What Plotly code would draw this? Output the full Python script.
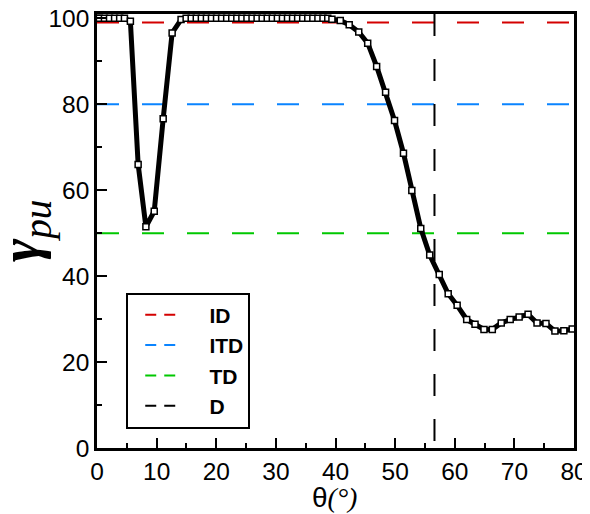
import plotly.graph_objects as go

# Curve data (theta in degrees, gamma_pu)
theta = [0, 0.4, 1.25, 2.1, 2.95, 3.8, 4.6, 5.6, 6.9, 8.2, 9.6, 11.1, 12.6,
         14.1, 14.95, 15.8, 16.65, 17.5, 18.35, 19.2, 20.05, 20.9, 21.75, 22.6,
         23.45, 24.3, 25.15, 26.0, 26.85, 27.7, 28.55, 29.4, 30.25, 31.1, 31.95,
         32.8, 33.65, 34.5, 35.35, 36.2, 37.05, 37.9, 38.7,
         39.4, 40.8, 42.3, 43.9, 45.4, 46.9, 48.4, 49.9, 51.4, 52.8, 54.3, 55.8,
         57.4, 58.9, 60.4, 62.0, 63.4, 64.9, 66.3, 67.8, 69.3, 70.8, 72.3, 73.8,
         75.3, 76.8, 78.3, 79.7]
gamma_pu = [100, 100, 100, 100, 100, 100, 100, 99.3, 66.0, 51.5, 55.1, 76.6, 96.6,
            99.7, 100, 100, 100, 100, 100, 100, 100, 100, 100, 100,
            100, 100, 100, 100, 100, 100, 100, 100, 100, 100, 100,
            100, 100, 100, 100, 100, 100, 100, 100,
            99.8, 99.5, 98.5, 96.8, 94.2, 88.8, 82.8, 76.2, 68.6, 59.9, 51.1, 44.9,
            40.4, 35.9, 33.2, 29.9, 28.8, 27.6, 27.6, 29.1, 29.9, 30.5, 31.1, 29.1,
            29.0, 27.2, 27.3, 27.7]

# Reference levels
ref_names = ["ID", "ITD", "TD"]
ref_levels = [99, 80, 50]
ref_colors = ["#d40000", "#0a84ff", "#00c800"]
d_name = "D"
d_theta = 56.6

x_range = [0, 80]
y_range = [0, 101]
x_ticks = [0, 10, 20, 30, 40, 50, 60, 70, 80]
y_ticks = [0, 20, 40, 60, 80, 100]
x_title = "θ<i><span style='font-family:Liberation Serif'>(°)</span></i>"
y_title = "<b><i>γ</i></b><sub><i>pu</i></sub>"

fig = go.Figure()

# horizontal reference lines
for name, lvl, col in zip(ref_names, ref_levels, ref_colors):
    fig.add_trace(go.Scatter(x=x_range, y=[lvl, lvl], mode="lines",
                             line=dict(color=col, width=2, dash="22px,23px"),
                             showlegend=False, hoverinfo="skip"))
# vertical D line
fig.add_trace(go.Scatter(x=[d_theta, d_theta], y=[y_range[1], y_range[0]], mode="lines",
                         line=dict(color="black", width=2, dash="22px,23px"),
                         showlegend=False, hoverinfo="skip"))

# curve
fig.add_trace(go.Scatter(x=theta, y=gamma_pu, mode="lines+markers",
                         line=dict(color="black", width=5),
                         marker=dict(symbol="square", size=6, color="white",
                                     line=dict(color="black", width=1.5)),
                         showlegend=False))

# legend entries
pad = "\u00a0" * 5
for name, col in zip(ref_names + [d_name], ref_colors + ["black"]):
    fig.add_trace(go.Scatter(x=[None], y=[None], mode="lines", name=pad + name,
                             line=dict(color=col, width=2, dash="11px,8px")))

# axis titles placed as annotations for exact positioning
fig.add_annotation(text=x_title, xref="paper", yref="paper", x=0.498, y=-0.115,
                   xanchor="center", yanchor="middle", showarrow=False,
                   font=dict(size=28, family="Liberation Sans, Arial", color="black"))
fig.add_annotation(text=y_title, xref="paper", yref="paper", x=-0.153, y=0.50,
                   xanchor="center", yanchor="middle", showarrow=False, textangle=-90,
                   font=dict(size=56, family="Liberation Serif, Times New Roman", color="black"))

# page body adds an 8 px offset; figure sized so the plot area lands in place
fig.update_layout(
    width=582, height=506,
    margin=dict(l=89, r=16, t=6, b=66),
    paper_bgcolor="white", plot_bgcolor="white",
    font=dict(family="Liberation Sans, Arial", size=24.5, color="black"),
    showlegend=True,
    legend=dict(x=0.0613, y=0.358, xanchor="left", yanchor="top",
                bgcolor="white", bordercolor="black", borderwidth=2,
                font=dict(family="Liberation Sans, Arial", size=21, color="black",
                          weight="bold"),
                indentation=12, tracegroupgap=0),
    xaxis=dict(range=x_range, tickvals=x_ticks, ticks="inside", ticklen=10, tickwidth=2,
               tickcolor="black", showline=True, linecolor="black", linewidth=2.5,
               mirror=True, showgrid=False, zeroline=False, automargin=False,
               ticklabeloverflow="allow",
               minor=dict(dtick=5, ticks="inside", ticklen=5, tickwidth=1.5, tickcolor="black")),
    yaxis=dict(range=y_range, tickvals=y_ticks, ticks="inside", ticklen=10, tickwidth=2,
               tickcolor="black", showline=True, linecolor="black", linewidth=2.5,
               mirror=True, showgrid=False, zeroline=False, automargin=False,
               ticklabeloverflow="allow",
               minor=dict(dtick=10, ticks="inside", ticklen=5, tickwidth=1.5, tickcolor="black")),
)

fig.write_html("out.html")
